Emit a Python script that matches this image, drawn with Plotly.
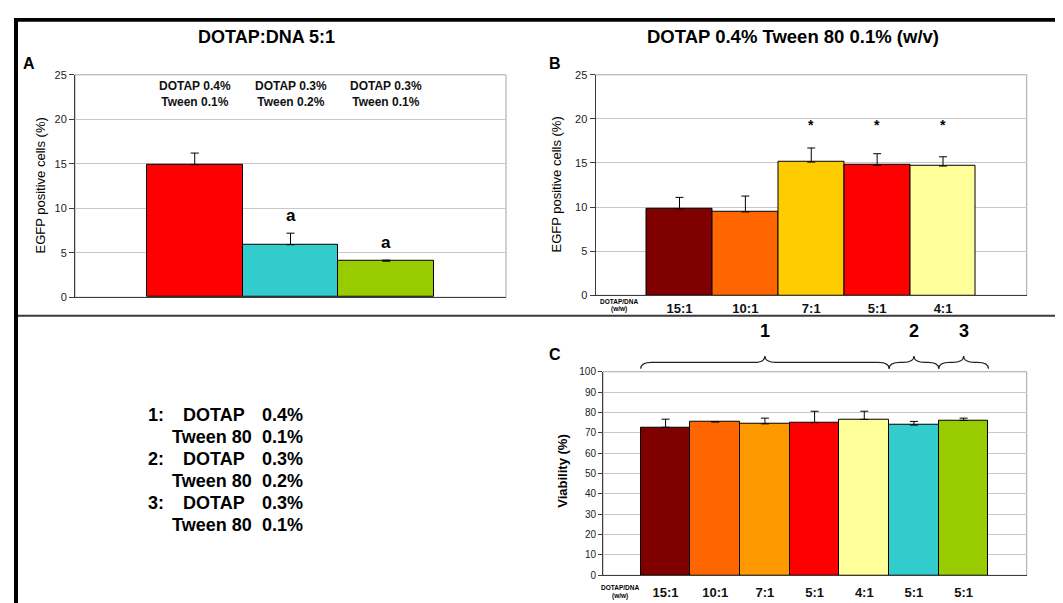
import plotly.graph_objects as go

W, H = 1063, 603
FONT = "Liberation Sans, Arial, sans-serif"

# ---------------- data ----------------
a_cats = ["DOTAP 0.4%<br>Tween 0.1%", "DOTAP 0.3%<br>Tween 0.2%", "DOTAP 0.3%<br>Tween 0.1%"]
a_vals = [14.9, 5.9, 4.05]
a_err = [1.3, 1.3, 0.12]
a_colors = ["#ff0000", "#33cccc", "#99cc00"]
a_sig = ["", "a", "a"]

b_cats = ["15:1", "10:1", "7:1", "5:1", "4:1"]
b_vals = [9.8, 9.45, 15.1, 14.75, 14.65]
b_err = [1.3, 1.8, 1.6, 1.3, 1.05]
b_colors = ["#800000", "#ff6600", "#ffcc00", "#ff0000", "#ffff99"]
b_sig = ["", "", "*", "*", "*"]

c_cats = ["15:1", "10:1", "7:1", "5:1", "4:1", "5:1", "5:1"]
c_vals = [72.7, 75.4, 74.4, 75.0, 76.6, 73.8, 76.1]
c_err = [4.0, 0.0, 2.8, 5.6, 4.0, 1.8, 1.1]
c_colors = ["#800000", "#ff6600", "#ff9900", "#ff0000", "#ffff99", "#33cccc", "#99cc00"]
c_groups = [(0, 4, "1"), (5, 5, "2"), (6, 6, "3")]

legend_rows = [
    ("1:", "DOTAP", "0.4%"),
    ("", "Tween 80", "0.1%"),
    ("2:", "DOTAP", "0.3%"),
    ("", "Tween 80", "0.2%"),
    ("3:", "DOTAP", "0.3%"),
    ("", "Tween 80", "0.1%"),
]


def px(x):
    return x / W


def py(y):
    return 1 - y / H


fig = go.Figure()


def add_bars(vals, err, colors, xa, ya):
    fig.add_trace(go.Bar(
        x=list(range(len(vals))), y=vals, width=1,
        marker=dict(color=colors, line=dict(color="#000000", width=1)),
        error_y=dict(type="data", array=err, arrayminus=[0] * len(err), symmetric=False,
                     color="#000000", thickness=1, width=4),
        xaxis=xa, yaxis=ya, showlegend=False, hoverinfo="skip",
    ))


add_bars(a_vals, a_err, a_colors, "x", "y")
add_bars(b_vals, b_err, b_colors, "x2", "y2")
add_bars(c_vals, c_err, c_colors, "x3", "y3")

GRID = "#c8c8c8"
AXL = "#3c3c3c"


def yax(domain, rng, dtick, fsize, anchor, ticklen=5):
    return dict(domain=domain, range=rng, dtick=dtick, anchor=anchor, showgrid=True, gridcolor=GRID,
                gridwidth=1, zeroline=False, showline=True, linecolor=AXL, linewidth=1, ticks="outside",
                ticklen=ticklen, tickcolor=AXL, tickfont=dict(family=FONT, size=fsize, color="#222222"),
                fixedrange=True)


def xax(domain, rng, cats, anchor, ticklen):
    return dict(domain=domain, range=rng, anchor=anchor, tickvals=list(range(len(cats))), ticktext=cats,
                showgrid=False, zeroline=False, showline=True, linecolor=AXL, linewidth=1,
                ticks="outside", ticklen=ticklen, tickcolor="rgba(0,0,0,0)",
                tickfont=dict(family=FONT, size=13, color="#111111", weight="bold"), fixedrange=True)


fig.update_layout(
    width=W, height=H, autosize=False,
    margin=dict(l=0, r=0, t=0, b=0),
    paper_bgcolor="#ffffff", plot_bgcolor="#ffffff",
    bargap=0, showlegend=False,
    font=dict(family=FONT, color="#000000"),
    xaxis=dict(domain=[px(67), px(498)], range=[-1.25, 3.25], anchor="y", showticklabels=False,
               showgrid=False, zeroline=False, showline=True, linecolor=AXL, linewidth=1, ticks="",
               fixedrange=True),
    yaxis=yax([py(289), py(62)], [0, 25], 5, 11, "x"),
    xaxis2=xax([px(587.5), px(1018.7)], [-1.275, 5.27], b_cats, "y2", 1),
    yaxis2=yax([py(287), py(62)], [0, 25], 5, 11, "x2"),
    xaxis3=xax([px(595), px(1018.7)], [-1.26, 7.27], c_cats, "y3", 5),
    yaxis3=yax([py(572.7), py(365)], [0, 100], 10, 10, "x3", 4),
)

shapes = []
# plot-area borders (light grey right/top)
for xa, ya in [("x", "y"), ("x2", "y2"), ("x3", "y3")]:
    shapes.append(dict(type="rect", xref=f"{xa} domain", yref=f"{ya} domain", x0=0, x1=1, y0=0, y1=1,
                       line=dict(color="#a6a6a6", width=1), layer="below"))
# frame
shapes.append(dict(type="rect", xref="paper", yref="paper", x0=px(6), x1=px(10), y0=0, y1=py(4),
                   fillcolor="#000000", line=dict(width=0)))
shapes.append(dict(type="rect", xref="paper", yref="paper", x0=px(6), x1=1, y0=py(8), y1=py(4),
                   fillcolor="#000000", line=dict(width=0)))
shapes.append(dict(type="line", xref="paper", yref="paper", x0=px(10), x1=1, y0=py(308), y1=py(308),
                   line=dict(color="#3a3a3a", width=2)))

# braces for panel C
yb, ym, ypk = py(362), py(355.5), py(349)
d = 0.22
for g0, g1, lab in c_groups:
    x0, x1 = g0 - 0.5, g1 + 0.5
    xm = (x0 + x1) / 2
    path = (f"M {x0},{yb} Q {x0},{ym} {x0 + d},{ym} L {xm - d},{ym} Q {xm},{ym} {xm},{ypk} "
            f"Q {xm},{ym} {xm + d},{ym} L {x1 - d},{ym} Q {x1},{ym} {x1},{yb}")
    shapes.append(dict(type="path", xref="x3", yref="paper", path=path,
                       line=dict(color="#222222", width=1.2)))
fig.update_layout(shapes=shapes)

ann = []


def text(x, y, s, size, bold=True, xref="paper", yref="paper", xanchor="center", yanchor="middle",
         angle=0, yshift=0, color="#000000"):
    ann.append(dict(x=x, y=y, xref=xref, yref=yref, text=s, showarrow=False, xanchor=xanchor,
                    yanchor=yanchor, textangle=angle, yshift=yshift,
                    font=dict(family=FONT, size=size, color=color, weight="bold" if bold else "normal")))


# titles and panel letters
text(px(258), py(23), "DOTAP:DNA 5:1", 18)
text(px(785), py(23), "DOTAP 0.4% Tween 80 0.1% (w/v)", 18.5)
text(px(21), py(51), "A", 16)
text(px(547), py(51), "B", 16)
text(px(547), py(347), "C", 16)

# y axis titles
text(px(33), py(175), "EGFP positive cells (%)", 13, bold=False, angle=-90)
text(px(549), py(174), "EGFP positive cells (%)", 13, bold=False, angle=-90)
text(px(555), py(467), "Viability (%)", 13, angle=-90)

# panel A bar headers and significance letters
for i, s in enumerate(a_cats):
    text(i, 22.8, s, 12, xref="x", yref="y", color="#111111")
for i, s in enumerate(a_sig):
    if s:
        text(i, a_vals[i] + a_err[i], s, 17, xref="x", yref="y", yshift=18)

# panel B significance
for i, s in enumerate(b_sig):
    if s:
        text(i, 19.3, s, 14, xref="x2", yref="y2")

# DOTAP/DNA (w/w) axis captions
text(-0.92, py(293), "DOTAP/DNA", 6.5, xref="x2")
text(-0.92, py(301), "(w/w)", 6.5, xref="x2")
text(-0.92, py(585), "DOTAP/DNA", 6.5, xref="x3")
text(-0.92, py(594), "(w/w)", 6.5, xref="x3")

# brace numbers
for g0, g1, lab in c_groups:
    text((g0 + g1) / 2, py(323), lab, 18, xref="x3")

# legend text block
row_y = [409, 431.5, 454, 476.5, 499, 521]
for (num, name, pct), yy in zip(legend_rows, row_y):
    if num:
        text(px(138), py(yy), num, 18, xanchor="left")
        text(px(173), py(yy), name, 18, xanchor="left")
    else:
        text(px(162), py(yy), name, 18, xanchor="left")
    text(px(297), py(yy), pct, 18, xanchor="right")

fig.update_layout(annotations=ann)
fig.write_html("out.html")
